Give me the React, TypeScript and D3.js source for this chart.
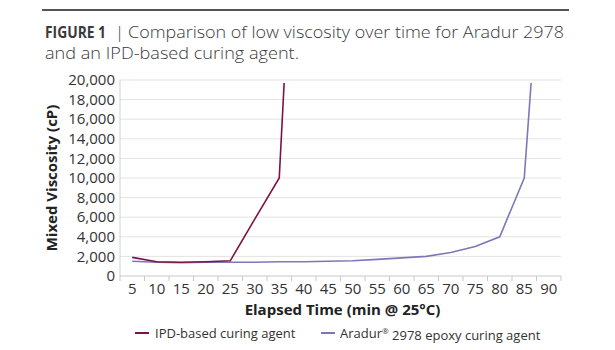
import React from "react";
import * as d3 from "d3";

const ipdTime = [5, 10, 15, 20, 25, 30, 35, 36];
const ipdViscosity = [1900, 1450, 1400, 1450, 1550, 5800, 10000, 19700];
const aradurTime = [5, 10, 15, 20, 25, 30, 35, 40, 45, 50, 55, 60, 65, 70, 75, 80, 85, 86.4];
const aradurViscosity = [1500, 1400, 1350, 1400, 1400, 1400, 1450, 1450, 1500, 1550, 1700, 1850, 2000, 2400, 3000, 4000, 10000, 19700];
const xTickLabels = [5, 10, 15, 20, 25, 30, 35, 40, 45, 50, 55, 60, 65, 70, 75, 80, 85, 90];
const yTicks = [0, 2000, 4000, 6000, 8000, 10000, 12000, 14000, 16000, 18000, 20000];
const seriesNames = ["IPD-based curing agent", "Aradur® 2978 epoxy curing agent"];

const W = 615, H = 350;
const left = 120, right = 561, top = 80, bottom = 276;
const ipdColor = "#7d1245";
const aradurColor = "#7c78b8";
const font = "'Open Sans', sans-serif";

export default function App() {
  const x = d3.scaleLinear().domain([2.5, 92.5]).range([left, right]);
  const y = d3.scaleLinear().domain([0, 20000]).range([bottom, top]);
  const line = d3.line<[number, number]>().x(d => x(d[0])).y(d => y(d[1]));
  const ipdPts: [number, number][] = ipdTime.map((t, i) => [t, ipdViscosity[i]]);
  const arPts: [number, number][] = aradurTime.map((t, i) => [t, aradurViscosity[i]]);
  const boundaries = d3.range(0, xTickLabels.length + 1).map(i => 2.5 + i * 5);
  const fmt = d3.format(",");
  return (
    <svg width={W} height={H} style={{ position: "absolute", left: 0, top: 0, background: "#fff" }} fontFamily={font}>
      <rect width={W} height={H} fill="#fff" />
      <line x1={42} x2={569} y1={10} y2={10} stroke="#555" strokeWidth={2} />
      <text x={45} y={38} fontSize={16} fill="#3a3a3a" fontWeight={700} fontFamily="'Liberation Sans Narrow', 'Open Sans', sans-serif" textLength={61} lengthAdjust="spacingAndGlyphs">FIGURE 1</text>
      <text x={115} y={38} fontSize={17} fill="#3a3a3a" fontWeight={300}>|</text>
      <text x={128} y={38} fontSize={17} fill="#3a3a3a" fontWeight={300} textLength={436} lengthAdjust="spacingAndGlyphs">Comparison of low viscosity over time for Aradur 2978</text>
      <text x={45} y={59} fontSize={17} fill="#3a3a3a" fontWeight={300} textLength={254} lengthAdjust="spacingAndGlyphs">and an IPD-based curing agent.</text>

      {yTicks.filter(v => v > 0).map(v => (
        <line key={"g" + v} x1={left} x2={right} y1={y(v)} y2={y(v)} stroke="#e3e3e3" strokeWidth={1} />
      ))}
      <line x1={left} x2={left} y1={top} y2={bottom} stroke="#d0d0d0" />
      <line x1={left} x2={right} y1={bottom} y2={bottom} stroke="#c8c8c8" />
      {boundaries.map(b => (
        <line key={"t" + b} x1={x(b)} x2={x(b)} y1={bottom} y2={bottom + 5} stroke="#c8c8c8" />
      ))}
      {yTicks.map(v => (
        <text key={"y" + v} x={115} y={y(v)} dy="0.35em" textAnchor="end" fontSize={15} fill="#333">{fmt(v)}</text>
      ))}
      {xTickLabels.map(v => (
        <text key={"x" + v} x={x(v)} y={289} dy="0.35em" textAnchor="middle" fontSize={15} fill="#333">{v}</text>
      ))}
      <text transform={`translate(52,${(top + bottom) / 2}) rotate(-90)`} textAnchor="middle" dy="0.35em" fontSize={15} fontWeight={700} fill="#222">Mixed Viscosity (cP)</text>
      <text x={(left + right) / 2 + 2} y={310} dy="0.35em" textAnchor="middle" fontSize={15} fontWeight={700} fill="#222">Elapsed Time (min @ 25°C)</text>

      <path d={line(arPts) || ""} fill="none" stroke={aradurColor} strokeWidth={1.6} />
      <path d={line(ipdPts) || ""} fill="none" stroke={ipdColor} strokeWidth={1.6} />

      <line x1={135} x2={149} y1={333} y2={333} stroke={ipdColor} strokeWidth={2} />
      <text x={155} y={333} dy="0.35em" fontSize={13} fill="#333">{seriesNames[0]}</text>
      <line x1={321} x2={335} y1={333} y2={333} stroke={aradurColor} strokeWidth={2} />
      <text x={340} y={333} dy="0.35em" fontSize={13} fill="#333">
        Aradur<tspan fontSize={8} dy="-0.5em">®</tspan><tspan dy="0.5em"> 2978 epoxy curing agent</tspan>
      </text>
    </svg>
  );
}
